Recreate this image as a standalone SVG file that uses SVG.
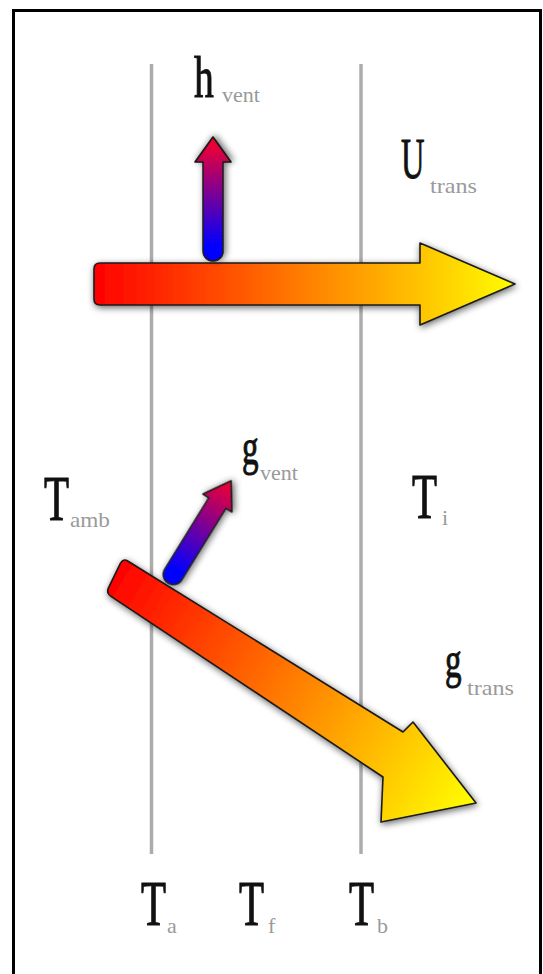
<svg xmlns="http://www.w3.org/2000/svg" width="543" height="974" viewBox="0 0 543 974">
<style>
.frame{fill:#fff;stroke:#000;stroke-width:3}
.wall{stroke:#acacac;stroke-width:3.5;fill:none}
.arrow{stroke:#1a1a1a;stroke-width:1.6;stroke-linejoin:round;filter:url(#shadow)}
.main{font-family:"Liberation Serif","DejaVu Serif",serif;fill:#111;stroke:#111;stroke-width:1}
.sub{font-family:"Liberation Serif","DejaVu Serif",serif;fill:#9a9a9a;font-size:22px}
</style>
<defs>
<filter id="shadow" x="-20%" y="-40%" width="140%" height="180%">
<feGaussianBlur in="SourceAlpha" stdDeviation="3.5"/>
<feOffset dx="1" dy="2" result="b"/>
<feComponentTransfer in="b" result="s"><feFuncA type="linear" slope="0.6"/></feComponentTransfer>
<feMerge><feMergeNode in="s"/><feMergeNode in="SourceGraphic"/></feMerge>
</filter>
<linearGradient id="hot" gradientUnits="userSpaceOnUse" x1="0" y1="0" x2="425" y2="0">
<stop offset="0" stop-color="#ff0000"/>
<stop offset="1" stop-color="#ffff00"/>
</linearGradient>
<linearGradient id="hotDiag" gradientUnits="userSpaceOnUse" x1="112" y1="577" x2="476" y2="803">
<stop offset="0" stop-color="#ff0000"/>
<stop offset="1" stop-color="#ffff00"/>
</linearGradient>
<linearGradient id="vent" gradientUnits="userSpaceOnUse" x1="0" y1="0" x2="124" y2="0">
<stop offset="0.12" stop-color="#0000ff"/>
<stop offset="1" stop-color="#ff0025"/>
</linearGradient>
</defs>
<rect class="frame" x="13.5" y="10.5" width="527" height="1000"/>
<g id="walls">
<line class="wall" x1="151.5" y1="64" x2="151.5" y2="854"/>
<line class="wall" x1="361" y1="64" x2="361" y2="854"/>
</g>
<g id="connectors">
<g id="U_trans_arrow" transform="translate(94,284)">
<path class="arrow" fill="url(#hot)" d="M6,-21 L326,-21 L326,-41 L421,0 L326,41 L326,21 L6,21 Q0,21 0,15 L0,-15 Q0,-21 6,-21 Z"/>
</g>
<g id="g_trans_arrow">
<path class="arrow" fill="url(#hotDiag)" d="M128.1,561.2 L403,732 L413,722 L476,803 L381,822 L383,777 L111,596.3 Q106,593 108.6,587.6 L120.4,563.4 Q123,558 128.1,561.2 Z"/>
</g>
<g id="h_vent_arrow" transform="translate(213,261) rotate(-90)">
<path class="arrow" fill="url(#vent)" d="M10,-10 L99,-10 L99,-18 L124,0 L99,18 L99,10 L10,10 A10,10 0 0 1 10,-10 Z"/>
</g>
<g id="g_vent_arrow" transform="translate(168,583) rotate(-58.3)">
<path class="arrow" fill="url(#vent)" d="M10,-10 L94,-10 L94,-17 L120,0 L94,17 L94,10 L10,10 A10,10 0 0 1 10,-10 Z"/>
</g>
</g>
<g id="h_vent">
<text class="main" font-size="60" transform="translate(194,97) scale(0.66,1)">h</text>
<text class="sub" x="222" y="102" textLength="38" lengthAdjust="spacingAndGlyphs">vent</text>
</g>
<g id="U_trans">
<text class="main" font-size="58" transform="translate(401,178) scale(0.56,1)">U</text>
<text class="sub" x="430" y="193" textLength="47" lengthAdjust="spacingAndGlyphs">trans</text>
</g>
<g id="g_vent">
<text class="main" font-size="50" transform="translate(242,464) scale(0.66,1)">g</text>
<text class="sub" x="260" y="480" textLength="38" lengthAdjust="spacingAndGlyphs">vent</text>
</g>
<g id="T_amb">
<text class="main" font-size="63" transform="translate(44,520) scale(0.65,1)">T</text>
<text class="sub" x="70" y="527" textLength="40" lengthAdjust="spacingAndGlyphs">amb</text>
</g>
<g id="T_i">
<text class="main" font-size="63" transform="translate(412,518) scale(0.65,1)">T</text>
<text class="sub" x="442" y="525">i</text>
</g>
<g id="g_trans">
<text class="main" font-size="50" transform="translate(445,677) scale(0.66,1)">g</text>
<text class="sub" x="467" y="695" textLength="47" lengthAdjust="spacingAndGlyphs">trans</text>
</g>
<g id="T_a">
<text class="main" font-size="63" transform="translate(141,925) scale(0.65,1)">T</text>
<text class="sub" x="167" y="933">a</text>
</g>
<g id="T_f">
<text class="main" font-size="63" transform="translate(239,925) scale(0.65,1)">T</text>
<text class="sub" x="268" y="933">f</text>
</g>
<g id="T_b">
<text class="main" font-size="63" transform="translate(349,925) scale(0.65,1)">T</text>
<text class="sub" x="377" y="933">b</text>
</g>
</svg>
